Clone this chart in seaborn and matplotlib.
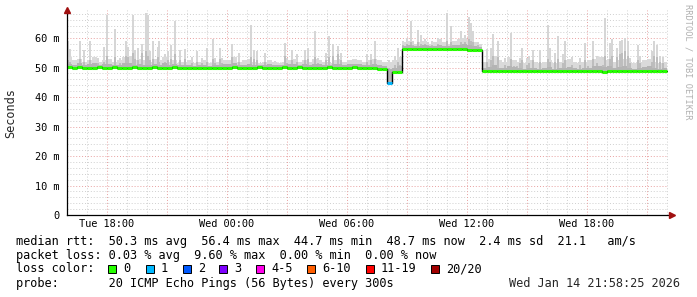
import numpy as np
import pandas as pd
import matplotlib
matplotlib.use("Agg")
import matplotlib.pyplot as plt
import seaborn as sns
from matplotlib.patches import Rectangle

# ---------------- data ----------------
BIN_H = 0.25  # 15-minute bins, hours since Tue 16:00

median_ms = [
    50.1, 50.0, 50.2, 50.0, 49.9, 50.0, 50.1, 50.0, 50.0, 50.2, 50.0, 49.9, 50.0, 50.1, 50.0, 50.0,
    50.0, 50.1, 49.9, 50.0, 50.0, 50.1, 50.0, 49.9, 49.8, 49.7, 49.8, 49.7, 49.7, 49.8, 49.9, 50.0,
    50.0, 50.1, 50.0, 49.9, 50.0, 50.0, 50.1, 50.0, 50.0, 49.9, 50.0, 50.1, 50.0, 50.0, 50.1, 50.0,
    50.0, 49.9, 50.0, 50.0, 50.1, 50.0, 50.0, 49.9, 50.0, 50.1, 50.0, 49.9, 49.8, 49.7, 49.6, 49.6,
    44.7, 48.4, 48.5,
    56.2, 56.3, 56.3, 56.2, 56.3, 56.4, 56.3, 56.2, 56.2, 56.3, 56.2, 56.3, 56.2, 56.1, 56.1, 56.0,
    48.8, 48.9, 48.8, 48.7, 48.8, 48.8, 48.9, 48.8, 48.7, 48.8, 48.8, 48.7, 48.8, 48.9, 48.8, 48.7,
    48.8, 48.8, 48.7, 48.8, 48.9, 48.8, 48.8, 48.7, 48.6, 48.7, 48.8, 48.8, 48.7, 48.8, 48.8, 48.7,
    48.8, 48.7, 48.8, 48.7, 48.7,
]

loss_bins = {64: 1}  # bin index -> loss colour index (all others: 0 lost)

band_hi = [
    53.5, 52.5, 53.0, 52.0, 52.5, 53.5, 52.0, 52.5, 53.0, 52.0, 52.5, 53.5, 54.0, 52.5, 53.0, 52.5,
    52.0, 53.0, 52.5, 53.5, 52.0, 52.5, 51.5, 52.0, 52.5, 51.5, 52.0, 52.5, 51.5, 51.5, 52.0, 52.5,
    52.5, 53.5, 52.0, 52.5, 53.0, 52.0, 51.5, 52.0, 52.5, 52.0, 51.5, 52.0, 52.5, 53.0, 52.0, 52.5,
    52.0, 53.0, 52.5, 52.0, 51.5, 52.5, 53.0, 52.0, 52.5, 53.0, 52.5, 52.0, 52.5, 53.0, 52.5, 52.0,
    52.0, 52.5, 53.5,
    58.5, 59.0, 58.0, 58.5, 59.0, 58.0, 58.5, 59.5, 58.5, 58.0, 59.0, 59.5, 60.0, 59.0, 58.5, 58.0,
    52.0, 53.0, 54.0, 52.5, 52.0, 53.5, 52.5, 52.0, 51.5, 52.5, 52.0, 51.5, 52.0, 52.5, 51.5, 52.0,
    52.5, 53.0, 52.0, 51.5, 52.0, 52.5, 53.0, 53.5, 52.5, 53.0, 52.0, 52.5, 53.0, 52.0, 51.5, 52.0,
    52.5, 53.0, 52.0, 51.5, 52.0,
]

band_mid = [
    51.2, 51.0, 51.4, 50.9, 51.1, 51.5, 50.9, 51.1, 51.3, 50.9, 51.0, 51.4, 51.6, 51.0, 51.2, 51.0,
    50.9, 51.3, 51.0, 51.4, 50.9, 51.1, 50.7, 50.8, 50.9, 50.6, 50.8, 50.9, 50.6, 50.7, 50.9, 51.1,
    51.1, 51.5, 50.9, 51.0, 51.3, 50.9, 50.8, 50.9, 51.1, 50.8, 50.7, 50.9, 51.1, 51.3, 50.9, 51.1,
    50.9, 51.3, 51.1, 50.9, 50.8, 51.1, 51.3, 50.9, 51.1, 51.3, 51.1, 50.8, 50.9, 51.1, 50.9, 50.6,
    49.5, 50.0, 50.5,
    57.4, 57.6, 57.2, 57.4, 57.7, 57.3, 57.4, 57.8, 57.4, 57.2, 57.6, 57.8, 58.0, 57.5, 57.3, 57.0,
    49.8, 50.3, 50.8, 50.0, 49.8, 50.4, 50.1, 49.8, 49.6, 50.0, 49.8, 49.6, 49.8, 50.1, 49.6, 49.8,
    50.0, 50.3, 49.8, 49.6, 49.8, 50.0, 50.4, 50.6, 50.1, 50.4, 49.8, 50.1, 50.4, 49.8, 49.6, 49.8,
    50.1, 50.4, 49.8, 49.6, 49.8,
]

spike_hour = [
    0.05, 0.15, 0.65, 0.85, 1.15, 1.55, 1.85, 2.00, 2.40, 2.65, 2.95, 3.05, 3.30, 3.40, 3.55, 3.75,
    3.95, 4.05, 4.15, 4.30, 4.55, 4.60, 4.90, 5.05, 5.20, 5.40, 5.65, 5.90, 6.25, 6.50, 6.75, 7.00,
    7.30, 7.40, 7.65, 7.75, 8.20, 8.25, 8.60, 9.00, 9.20, 9.35, 9.50, 9.90, 10.05, 10.40, 10.90, 11.00,
    11.25, 11.50, 11.75, 11.90, 12.05, 12.40, 12.55, 12.70, 12.95, 13.10, 13.30, 13.55, 13.70, 14.00,
    14.40, 14.80, 15.00, 15.20, 15.40, 15.60, 16.10, 16.40, 16.55, 16.65, 16.80, 17.00, 17.20, 17.30,
    17.55, 17.70, 17.90, 18.05, 18.25, 18.55, 19.00, 19.20, 19.45, 19.70, 19.90, 20.10, 20.20, 20.30,
    20.55, 21.00, 21.20, 21.30, 21.55, 21.90, 22.20, 22.35, 22.50, 22.65, 22.75, 23.00, 23.10, 23.30,
    23.65, 24.05, 24.15, 24.40, 24.55, 24.80, 24.90, 25.25, 25.65, 25.90, 26.05, 26.30, 26.50, 26.80,
    26.90, 27.15, 27.25, 27.50, 27.65, 27.75, 27.90, 28.05, 28.15, 28.55, 28.65, 29.25, 29.35, 29.50,
    29.65, 29.80,
]
spike_top = [
    59.0, 56.4, 58.9, 56.0, 58.9, 53.2, 57.0, 67.9, 63.2, 53.2, 58.9, 57.0, 67.9, 55.8, 56.5, 58.0,
    68.5, 67.9, 55.6, 58.9, 57.0, 58.9, 54.6, 55.6, 57.5, 65.9, 56.0, 56.4, 53.5, 55.6, 53.2, 56.5,
    59.8, 53.2, 56.6, 53.3, 52.3, 58.0, 55.0, 52.3, 64.5, 56.0, 55.6, 55.0, 52.0, 52.3, 58.3, 53.2,
    56.0, 54.6, 52.0, 56.0, 56.5, 62.5, 53.2, 52.3, 55.0, 60.6, 58.0, 57.3, 55.0, 52.0,
    52.5, 52.0, 54.6, 54.6, 58.9, 52.1, 52.6, 53.8, 56.6, 53.2, 58.9, 60.0, 65.9, 58.9,
    62.8, 61.1, 59.7, 58.5, 58.9, 60.0, 68.5, 64.0, 58.9, 62.3, 61.1, 67.0, 65.0, 62.3,
    58.5, 56.4, 56.6, 61.4, 58.9, 53.2, 61.7, 52.0, 52.0, 53.2, 56.6, 53.2, 53.8, 56.0,
    56.0, 64.5, 56.6, 55.0, 60.6, 54.6, 58.9, 53.5, 53.2, 58.3, 52.3, 58.9, 53.8, 53.5,
    66.8, 58.3, 59.8, 56.6, 58.9, 59.3, 60.0, 58.9, 53.2, 57.6, 54.0, 55.6, 58.9, 57.6,
    54.0, 53.5,
]
spike_mid = [
    52.5, 52.0, 53.0, 52.0, 52.5, 51.5, 52.0, 54.0, 53.5, 51.5, 54.0, 53.5, 55.0, 53.0, 52.5, 55.0,
    55.5, 54.0, 52.5, 53.0, 53.5, 52.0, 52.0, 52.5, 53.0, 54.5, 52.5, 53.0, 51.5, 52.0, 51.5, 52.0,
    53.0, 51.5, 53.0, 51.5, 51.0, 53.5, 52.0, 51.0, 53.5, 53.0, 52.5, 52.0, 51.0, 51.0, 54.0, 51.5,
    52.5, 52.0, 51.0, 52.5, 53.0, 53.5, 51.5, 51.0, 52.5, 53.5, 54.0, 54.5, 52.5, 51.0,
    51.0, 51.0, 52.0, 52.5, 53.0, 51.0, 50.0, 51.0, 52.0, 51.0, 57.5, 58.0, 58.5, 57.5,
    58.5, 58.0, 58.0, 57.5, 57.5, 58.0, 59.0, 58.5, 57.5, 58.5, 58.5, 59.5, 59.0, 58.5,
    57.5, 52.0, 52.5, 54.0, 53.5, 51.0, 53.0, 50.5, 50.5, 51.5, 52.5, 51.0, 51.5, 52.5,
    52.0, 53.0, 52.0, 52.0, 53.0, 51.5, 52.5, 51.0, 51.0, 52.5, 50.5, 53.0, 51.5, 51.0,
    54.0, 53.0, 54.0, 53.5, 54.5, 55.0, 55.5, 54.0, 51.5, 52.5, 51.5, 52.0, 54.0, 53.5,
    52.0, 51.5,
]

x_tick_hours = [2, 8, 14, 20, 26]
x_tick_labels = ["Tue 18:00", "Wed 00:00", "Wed 06:00", "Wed 12:00", "Wed 18:00"]
y_ticks = [0, 10, 20, 30, 40, 50, 60]
y_tick_labels = ["0", "10 m", "20 m", "30 m", "40 m", "50 m", "60 m"]

loss_labels = ["0", "1", "2", "3", "4-5", "6-10", "11-19", "20/20"]
loss_colors = ["#26ff00", "#00b8ff", "#0059ff", "#7e00ff", "#ff00ea", "#ff5e00", "#ff0000", "#a10000"]

line_rtt = "median rtt:  50.3 ms avg  56.4 ms max  44.7 ms min  48.7 ms now  2.4 ms sd  21.1   am/s"
line_loss = "packet loss: 0.03 % avg  9.60 % max  0.00 % min  0.00 % now"
line_colour = "loss color:"
line_probe = "probe:       20 ICMP Echo Pings (56 Bytes) every 300s"
stamp = "Wed Jan 14 21:58:25 2026"
watermark = "RRDTOOL / TOBI OETIKER"
y_title = "Seconds"

# ---------------- figure ----------------
sns.set_theme(style="white")
plt.rcParams["font.family"] = ["DejaVu Sans Mono"]
MONO = "DejaVu Sans Mono"

W, H = 697, 297
fig = plt.figure(figsize=(W / 100, H / 100), dpi=100)
fig.patch.set_facecolor("white")
ax = fig.add_axes([67 / W, 82 / H, 601 / W, 205 / H])
ax.set_facecolor("white")

n = len(median_ms)
t = np.arange(n) * BIN_H
med = np.array(median_ms)
df = pd.DataFrame({"t": t, "median": med, "band_hi": band_hi, "band_mid": band_mid})

XMAX, YMAX = 30.05, 69.5
ax.set_xlim(0, XMAX)
ax.set_ylim(0, YMAX)

# grid
dot = (0, (1, 2))
for v in np.arange(2, 70, 2):
    if v % 10 == 0:
        ax.axhline(v, color="#e8a0a0", lw=0.7, ls=dot, zorder=0)
    else:
        ax.axhline(v, color="#cfcfcf", lw=0.7, ls=dot, zorder=0)
for h in np.arange(1, 31, 1):
    if (h - 2) % 3 == 0:
        ax.axvline(h, color="#e8a0a0", lw=0.7, ls=dot, zorder=0)
    else:
        ax.axvline(h, color="#cfcfcf", lw=0.7, ls=dot, zorder=0)

# smoke
sp_h = np.array(spike_hour)
base_idx = np.clip((sp_h // BIN_H).astype(int), 0, n - 1)
sp_base = med[base_idx]
ax.bar(sp_h, np.array(spike_top) - sp_base, bottom=sp_base, width=0.1,
       color="#d6d6d6", linewidth=0, zorder=1)
ax.bar(df["t"], df["band_hi"] - df["median"], bottom=df["median"], width=BIN_H,
       align="edge", color="#dadada", linewidth=0, zorder=1)
ax.bar(sp_h, np.array(spike_mid) - sp_base, bottom=sp_base, width=0.1,
       color="#bdbdbd", linewidth=0, zorder=2)
ax.bar(df["t"], df["band_mid"] - df["median"], bottom=df["median"], width=BIN_H,
       align="edge", color="#b4b4b4", linewidth=0, zorder=2)

# median: black connectors, coloured level segments
step_df = pd.DataFrame({"t": np.append(t, t[-1] + BIN_H), "median": np.append(med, med[-1])})
sns.lineplot(data=step_df, x="t", y="median", ax=ax, color="black", lw=1.0,
             drawstyle="steps-post", estimator=None, zorder=3)
cols = [loss_colors[loss_bins.get(i, 0)] for i in range(n)]
ax.hlines(med, t, t + BIN_H, colors=cols, lw=2.2, zorder=4, capstyle="butt")

# axes styling
for s in ["top", "right"]:
    ax.spines[s].set_visible(False)
for s in ["left", "bottom"]:
    ax.spines[s].set_color("black")
    ax.spines[s].set_linewidth(0.9)
    ax.spines[s].set_zorder(5)
ax.spines["bottom"].set_bounds(0, XMAX + 0.1)
ax.set_yticks(y_ticks)
ax.set_yticklabels(y_tick_labels, fontfamily=MONO, fontsize=7.4)
ax.set_yticks(np.arange(0, 70, 2), minor=True)
ax.set_xticks(x_tick_hours)
ax.set_xticklabels(x_tick_labels, fontfamily=MONO, fontsize=7.4)
ax.tick_params(axis="y", which="major", direction="out", length=3, width=0.8, pad=2.5, colors="black")
ax.tick_params(axis="y", which="minor", direction="out", length=1.5, width=0.6, colors="black")
ax.tick_params(axis="x", which="major", length=0, pad=3, colors="black")
ax.set_xlabel("")
ax.set_ylabel("")

# arrows
ax.plot([0], [1.0], marker="^", color="#a01010", ms=4, transform=ax.transAxes, clip_on=False, zorder=6)
ax.plot([XMAX + 0.2], [0], marker=">", color="#a01010", ms=4, clip_on=False, zorder=6)

# ---------------- legend text ----------------
def fx(px):
    return px / W

def fy(py):
    return 1 - py / H

fig.text(fx(11), fy(113), y_title, fontfamily=MONO, fontsize=8.6, rotation=90,
         va="center", ha="center")

tk = dict(fontfamily=MONO, fontsize=8.6, va="center", ha="left", color="black")
fig.text(fx(16), fy(241), line_rtt, **tk)
fig.text(fx(16), fy(255), line_loss, **tk)
fig.text(fx(16), fy(269), line_colour, **tk)
fig.text(fx(16), fy(283.5), line_probe, **tk)
fig.text(fx(680), fy(283.5), stamp, fontfamily=MONO, fontsize=8.6, va="center", ha="right")

box_x = [108, 146, 183, 219, 256, 307, 366, 431]
for bx, lab, col in zip(box_x, loss_labels, loss_colors):
    fig.patches.append(Rectangle((fx(bx), fy(273)), 8 / W, 8 / H, transform=fig.transFigure,
                                 facecolor=col, edgecolor="black", lw=0.7, figure=fig))
    fig.text(fx(bx + 15), fy(269), lab, **tk)

fig.text(fx(688), fy(4), watermark, fontfamily=MONO, fontsize=6.2, color="#b0b0b0",
         rotation=270, va="top", ha="center")

fig.savefig("out.png", dpi=100, facecolor="white")
